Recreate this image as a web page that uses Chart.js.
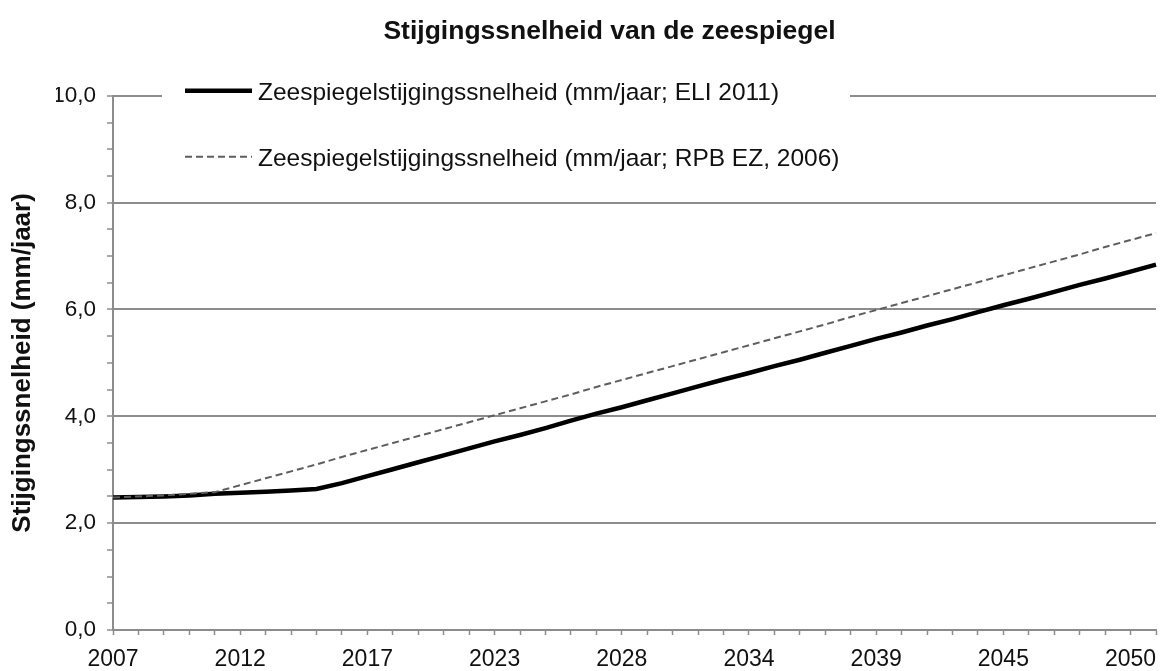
<!DOCTYPE html>
<html>
<head>
<meta charset="utf-8">
<title>Stijgingssnelheid van de zeespiegel</title>
<script src="https://cdn.jsdelivr.net/npm/chart.js@4.4.1/dist/chart.umd.min.js"></script>
<style>
  html, body { margin: 0; padding: 0; background: #fff; overflow: hidden; }
  #wrap { width: 1167px; height: 671px; position: relative; }
</style>
</head>
<body>
<div id="wrap"><canvas id="mycanvas"></canvas></div>
<script>
// categorie-as: alleen elke 5e stap krijgt een jaartal
var jaren = ['2007','','','','','2012','','','','','2017','','','','','2023','','','','',
             '2028','','','','','2034','','','','','2039','','','','','2045','','','','','2050',''];

// Zeespiegelstijgingssnelheid (mm/jaar; ELI 2011)
var eli2011 = [2.48, 2.49, 2.50, 2.52, 2.55, 2.57, 2.59, 2.61, 2.64, 2.75,
               2.88, 3.01, 3.14, 3.27, 3.40, 3.53, 3.65, 3.78, 3.92, 4.05,
               4.17, 4.30, 4.43, 4.56, 4.69, 4.81, 4.94, 5.06, 5.19, 5.32,
               5.45, 5.57, 5.70, 5.82, 5.95, 6.08, 6.20, 6.33, 6.46, 6.58,
               6.71, 6.84];

// Zeespiegelstijgingssnelheid (mm/jaar; RPB EZ, 2006)
var rpb2006 = [2.48, 2.50, 2.52, 2.55, 2.58, 2.71, 2.84, 2.97, 3.10, 3.24,
               3.37, 3.50, 3.63, 3.76, 3.89, 4.02, 4.15, 4.28, 4.41, 4.55,
               4.68, 4.81, 4.94, 5.07, 5.20, 5.33, 5.46, 5.59, 5.72, 5.86,
               5.99, 6.12, 6.25, 6.38, 6.51, 6.64, 6.77, 6.90, 7.03, 7.17,
               7.30, 7.43];

var yLabels = ['0,0', '2,0', '4,0', '6,0', '8,0', '10,0'];

var lettertype = '"Liberation Sans", Arial, sans-serif';
var grijs = '#8c8c8c';

// legenda binnen het grafiekvlak, met witte achtergrond over de rasterlijn
var legendeInGrafiek = {
  id: 'legendeInGrafiek',
  afterDatasetsDraw: function(chart) {
    var ctx = chart.ctx, ca = chart.chartArea;
    ctx.save();
    ctx.fillStyle = '#ffffff';
    ctx.fillRect(ca.left + 49, ca.top - 36, 688, 125);
    ctx.font = '24.5px ' + lettertype;
    ctx.textBaseline = 'middle';
    ctx.textAlign = 'left';
    chart.data.datasets.forEach(function(ds, i) {
      var y = ca.top - 5 + i * 66;
      ctx.beginPath();
      ctx.strokeStyle = ds.borderColor;
      ctx.lineWidth = ds.borderWidth;
      ctx.setLineDash(ds.borderDash || []);
      ctx.moveTo(ca.left + 72, y);
      ctx.lineTo(ca.left + 139, y);
      ctx.stroke();
      ctx.setLineDash([]);
      ctx.fillStyle = '#111111';
      ctx.fillText(ds.label, ca.left + 145, y + 2);
    });
    ctx.restore();
  }
};

var chartdata = {
  labels: jaren,
  datasets: [
    {
      label: 'Zeespiegelstijgingssnelheid (mm/jaar; ELI 2011)',
      data: eli2011,
      borderColor: '#000000',
      borderWidth: 4.5,
      pointRadius: 0,
      tension: 0,
      order: 2
    },
    {
      label: 'Zeespiegelstijgingssnelheid (mm/jaar; RPB EZ, 2006)',
      data: rpb2006,
      borderColor: '#5e5e5e',
      borderWidth: 2,
      borderDash: [7, 4],
      pointRadius: 0,
      tension: 0,
      order: 1
    }
  ]
};

var ctx = document.getElementById('mycanvas');

var lijnGrafiek = new Chart(ctx, {
  type: 'line',
  data: chartdata,
  plugins: [legendeInGrafiek],
  options: {
    responsive: true,
    maintainAspectRatio: false,
    animation: false,
    layout: { padding: { left: 56, right: 4, top: 0, bottom: 0 } },
    plugins: {
      legend: { display: false },
      tooltip: { enabled: false },
      title: {
        display: true,
        text: 'Stijgingssnelheid van de zeespiegel',
        color: '#111111',
        font: { family: lettertype, size: 26.5, weight: 'bold' },
        padding: { top: 16, bottom: 48 }
      }
    },
    scales: {
      x: {
        type: 'category',
        offset: false,
        afterFit: function(s) { s.height = 41; },
        grid: {
          drawOnChartArea: false,
          drawTicks: true,
          tickLength: 5,
          tickColor: grijs,
          tickWidth: 1.5
        },
        border: { display: true, color: grijs, width: 2 },
        ticks: {
          autoSkip: false,
          maxRotation: 0,
          minRotation: 0,
          padding: 11,
          color: '#111111',
          font: { family: lettertype, size: 23 }
        }
      },
      y: {
        min: 0,
        max: 10,
        afterFit: function(s) { s.width = 57; },
        title: {
          display: true,
          text: 'Stijgingssnelheid (mm/jaar)',
          color: '#111111',
          font: { family: lettertype, size: 26, weight: 'bold' },
          padding: { top: -49, bottom: 0 }
        },
        grid: {
          color: function(c) { return c.tick && c.tick.value % 2 === 0 ? grijs : 'rgba(0,0,0,0)'; },
          lineWidth: 2,
          drawTicks: true,
          tickLength: 6,
          tickColor: grijs,
          tickWidth: 1.5
        },
        border: { display: true, color: grijs, width: 2 },
        ticks: {
          stepSize: 0.5,
          autoSkip: false,
          padding: 11,
          color: '#111111',
          font: { family: lettertype, size: 22.5 },
          callback: function(v) { return v % 2 === 0 ? yLabels[v / 2] : ''; }
        }
      }
    }
  }
});
</script>
</body>
</html>
